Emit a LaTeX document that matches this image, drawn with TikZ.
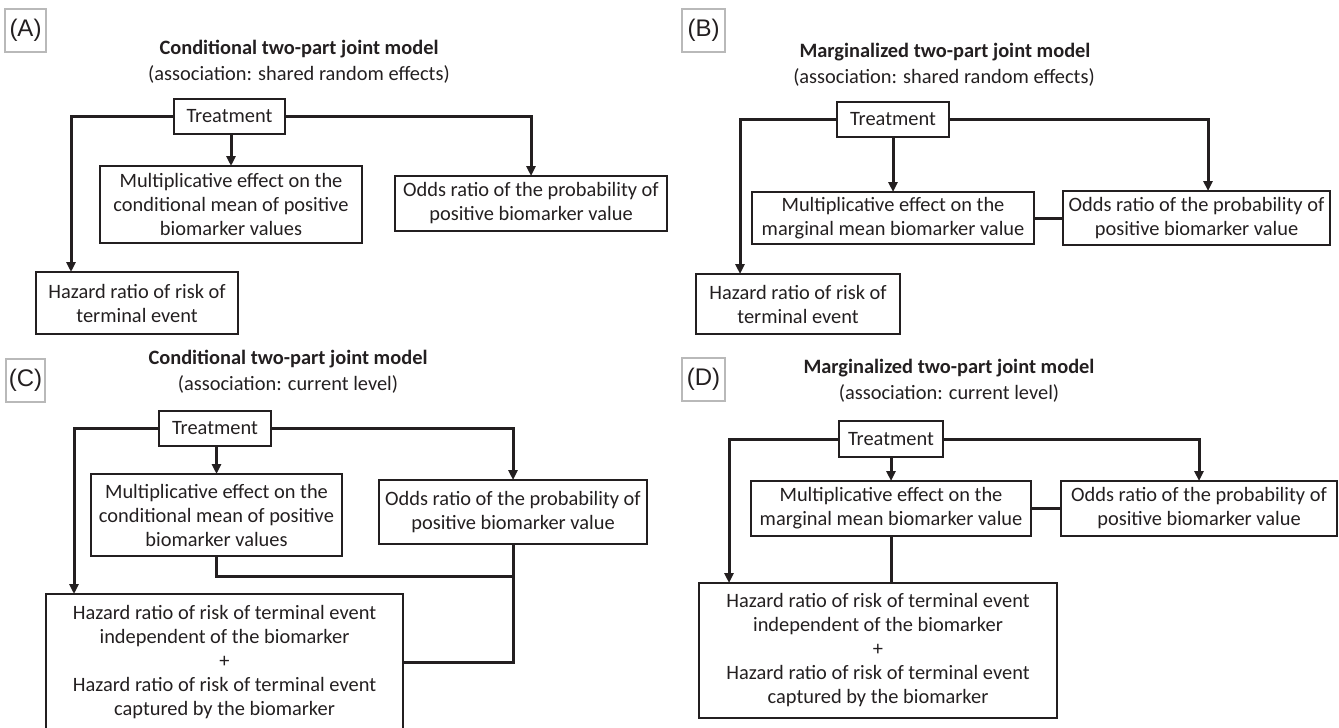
\documentclass[tikz,border=0pt]{standalone}
\usepackage{fontspec}
\setmainfont{Carlito}
\newfontfamily\labelfont{Liberation Sans}
\usetikzlibrary{arrows.meta}
\definecolor{ink}{RGB}{35,31,32}
\definecolor{lblgray}{RGB}{185,185,185}
\newcommand{\bx}[7][box]{\node[#1, minimum width={(#4-#2)*0.5pt}, minimum height={(#5-#3)*0.5pt}] (#7) at ({(#2+#4)/2},{(#3+#5)/2}) {#6};}
\tikzset{
  box/.style={draw=ink, line width=0.7pt, inner sep=0pt, outer sep=0pt, align=center, text=ink, font=\fontsize{10.2}{12}\selectfont},
  lbl/.style={draw=lblgray, line width=0.8pt, inner sep=0pt, outer sep=0pt, text=ink, font=\labelfont\fontsize{12}{14}\selectfont},
  conn/.style={draw=ink, line width=1.5pt},
  arr/.style={conn, -{Triangle[length=5pt,width=4.5pt]}},
  ttl/.style={text=ink, font=\bfseries\fontsize{10.2}{12}\selectfont},
  sub/.style={text=ink, font=\fontsize{10.2}{12}\selectfont},
}
\begin{document}
\begin{tikzpicture}[x=0.5pt,y=-0.5pt]
\useasboundingbox (0,0) rectangle (1339,728);
% ---------- labels ----------
\bx[lbl]{5}{9}{46}{52}{(A)}{LA}
\bx[lbl]{682}{9}{725}{52}{(B)}{LB}
\bx[lbl]{6}{359}{45}{402}{(C)}{LC}
\bx[lbl]{682}{358}{725}{401}{(D)}{LD}
% ---------- titles ----------
\node[ttl] (TA) at (299,49) {Conditional two-part joint model};
\node[sub] (SA) at (299,74) {(association: shared random effects)};
\node[ttl] (TB) at (945,52) {Marginalized two-part joint model};
\node[sub] (SB) at (944,77) {(association: shared random effects)};
\node[ttl] (TC) at (288,359) {Conditional two-part joint model};
\node[sub] (SC) at (288,384) {(association: current level)};
\node[ttl] (TD) at (949,368) {Marginalized two-part joint model};
\node[sub] (SD) at (949,393) {(association: current level)};
% ---------- panel A ----------
\bx{174}{99}{285}{134}{Treatment}{tA}
\bx{100}{166}{362}{243}{Multiplicative effect on the\\conditional mean of positive\\biomarker values}{mA}
\bx{395}{176}{667}{231}{Odds ratio of the probability of\\positive biomarker value}{oA}
\bx{36}{272}{238}{334}{Hazard ratio of risk of\\terminal event}{hA}
\draw[arr] (tA.west) -| ([xshift=17.5pt]hA.north west);
\draw[arr] (tA.east) -| (oA.north);
\draw[arr] (tA.south -| mA.north) -- (mA.north);
% ---------- panel B ----------
\bx{837}{102}{949}{137}{Treatment}{tB}
\bx{752}{192}{1034}{244}{Multiplicative effect on the\\marginal mean biomarker value}{mB}
\bx{1063}{191}{1330}{245}{Odds ratio of the probability of\\positive biomarker value}{oB}
\bx{696}{274}{900}{334}{Hazard ratio of risk of\\terminal event}{hB}
\draw[arr] (tB.west) -| ([xshift=22pt]hB.north west);
\draw[arr] (tB.east) -| ([xshift=5.75pt]oB.north);
\draw[arr] (tB.south) -- (mB.north);
\draw[conn] (mB.east) -- (oB.west);
% ---------- panel C ----------
\bx{159}{411}{271}{446}{Treatment}{tC}
\bx{91}{474}{342}{556}{Multiplicative effect on the\\conditional mean of positive\\biomarker values}{mC}
\bx{379}{480}{647}{544}{Odds ratio of the probability of\\positive biomarker value}{oC}
\bx{46}{594}{403}{730}{Hazard ratio of risk of terminal event\\independent of the biomarker\\+\\Hazard ratio of risk of terminal event\\captured by the biomarker}{hC}
\draw[arr] (tC.west) -| ([xshift=14pt]hC.north west);
\draw[arr] (tC.east) -| (oC.north);
\draw[arr] (tC.south -| mC.north) -- (mC.north);
\coordinate (jC) at (513,576);
\draw[conn] (mC.south) |- (jC);
\draw[conn] (oC.south) |- (hC.east);
% ---------- panel D ----------
\bx{839}{421}{943}{457}{Treatment}{tD}
\bx{751}{481}{1031}{536}{Multiplicative effect on the\\marginal mean biomarker value}{mD}
\bx{1061}{481}{1337}{536}{Odds ratio of the probability of\\positive biomarker value}{oD}
\bx{699}{583}{1057}{718}{Hazard ratio of risk of terminal event\\independent of the biomarker\\+\\Hazard ratio of risk of terminal event\\captured by the biomarker}{hD}
\draw[arr] (tD.west) -| ([xshift=15pt]hD.north west);
\draw[arr] (tD.east) -| (oD.north);
\draw[arr] (tD.south) -- (mD.north);
\draw[conn] (mD.east) -- (oD.west);
\draw[conn] (mD.south) -- (mD.south |- hD.north);
\end{tikzpicture}
\end{document}
